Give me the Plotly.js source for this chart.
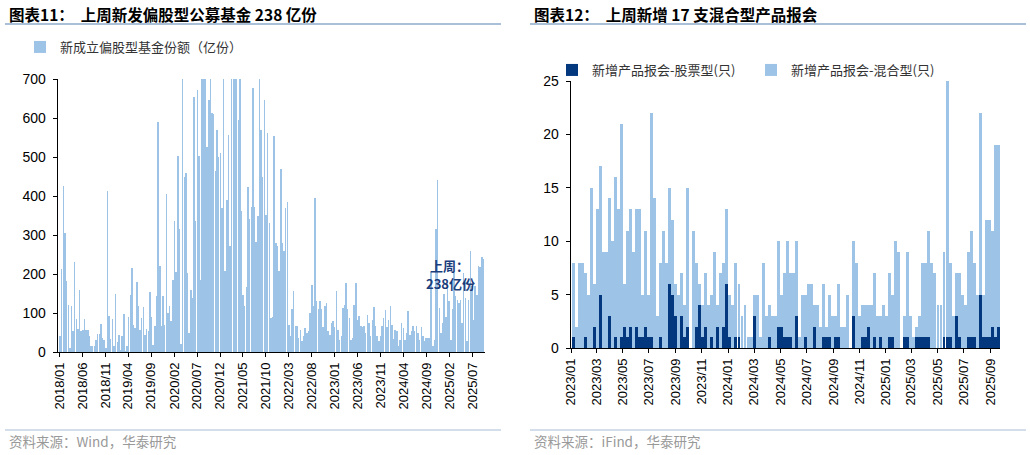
<!DOCTYPE html>
<html>
<head>
<meta charset="utf-8">
<script src="https://cdn.plot.ly/plotly-3.0.1.min.js"></script>
<style>
  html, body { margin: 0; padding: 0; background: #fff; }
  #chart { width: 1030px; height: 455px; }
</style>
</head>
<body>
<div id="chart"></div>
<script>
// left chart: new equity-biased fund shares (亿份)
const fundShares = [
  40, 214, 426, 305, 183, 121, 9, 117, 53, 231,
  85, 59, 160, 53, 57, 85, 57, 57, 40, 15,
  16, 15, 32, 46, 46, 73, 36, 30, 10, 412,
  93, 33, 85, 16, 150, 26, 43, 4, 40, 98,
  2, 15, 90, 147, 215, 70, 62, 179, 117, 57,
  87, 115, 44, 59, 53, 155, 91, 19, 66, 143,
  591, 220, 66, 143, 70, 406, 100, 119, 79, 185,
  337, 204, 503, 315, 21, 760, 450, 460, 202, 49,
  160, 138,
  655, 335, 673, 503, 185, 760, 720, 740, 525, 645,
  750, 613, 611, 463, 568, 500, 510, 369, 780, 207,
  390, 557, 271, 770, 730, 790, 740, 596, 760, 361,
  147, 117, 167, 423, 342, 373, 677, 373, 281, 348,
  720, 570, 450, 645, 352, 562, 331, 87, 91, 555,
  279, 271, 207, 469, 279, 258, 369, 384, 70, 40,
  109, 156, 66, 66, 36, 57, 27, 40, 62, 50,
  53, 100, 173, 117, 395, 130, 109, 130, 109, 64,
  117, 126, 53, 44, 74, 79, 63, 156, 57, 32,
  40, 113, 121, 177, 110, 87, 30, 36, 121, 177,
  81, 93, 66, 64, 66, 49, 96, 74, 40, 83,
  115, 66, 40, 27, 40, 66, 87, 107, 64, 83,
  117, 70, 33, 57, 53, 15, 32, 74, 62, 32,
  49, 104, 44, 53, 66, 53, 66, 49, 32, 63,
  40, 27, 36, 36, 36, 204, 15, 32, 315, 442,
  113, 49, 74, 150, 91, 185, 130, 30, 109, 203,
  143, 134, 126, 134, 74, 203, 138, 27, 134, 258,
  168, 83, 168, 147, 221, 219, 244, 238
];
const fundStart = '2018-01-05';
const fundEnd = '2025-09-12';
const leftTicks = ['2018/01', '2018/06', '2018/11', '2019/04', '2019/09', '2020/02', '2020/07',
  '2020/12', '2021/05', '2021/10', '2022/03', '2022/08', '2023/01', '2023/06', '2023/11',
  '2024/04', '2024/09', '2025/02', '2025/07'];

// right chart: weekly filings (只), stacked
const filingStart = '2023-01-06';
const stockFilings = [
  1, 0, 0, 0, 1, 0, 0, 2, 0, 5,
  0, 0, 3, 0, 1, 0, 1, 2, 1, 2,
  0, 2, 1, 1, 2, 1, 1, 0, 0, 1,
  0, 0, 6, 5, 3, 0, 3, 1, 2, 0,
  0, 2, 4, 1, 2, 0, 1, 0, 2, 0,
  2, 6, 1, 0, 1, 1, 0, 0, 0, 0,
  3, 0, 0, 0, 0, 1, 0, 0, 2, 2,
  1, 1, 1, 0, 3, 0, 0, 1, 0, 0,
  2, 0, 0, 1, 1, 1, 0, 1, 1, 0,
  0, 0, 0, 3, 0, 0, 1, 1, 2, 0,
  1, 0, 1, 0, 0, 1, 1, 0, 0, 0,
  1, 1, 0, 0, 1, 1, 1, 1, 1, 0,
  0, 0, 0, 1, 1, 1, 0, 3, 1, 0,
  0, 1, 1, 1, 0, 5, 1, 1, 1, 2,
  1, 2
];
const mixedFilings = [
  7, 2, 8, 8, 6, 5, 15, 4, 13, 12,
  9, 9, 11, 10, 15, 13, 20, 4, 10, 11,
  9, 11, 12, 4, 9, 4, 21, 14, 3, 7,
  11, 8, 9, 7, 3, 5, 4, 3, 13, 0,
  11, 6, 2, 3, 5, 4, 4, 9, 2, 7,
  6, 7, 4, 4, 7, 5, 3, 4, 1, 1,
  2, 5, 1, 8, 3, 3, 3, 3, 8, 3,
  6, 9, 6, 7, 7, 1, 5, 4, 6, 6,
  2, 4, 2, 5, 1, 4, 3, 2, 5, 2,
  2, 5, 0, 7, 8, 3, 3, 3, 2, 4,
  6, 3, 2, 4, 3, 6, 4, 10, 9, 0,
  2, 8, 3, 1, 1, 2, 7, 7, 10, 8,
  7, 4, 4, 8, 24, 7, 3, 4, 6, 5,
  4, 8, 10, 7, 5, 17, 4, 11, 11, 9,
  18, 17
];
const rightTicks = ['2023/01', '2023/03', '2023/05', '2023/07', '2023/09', '2023/11',
  '2024/01', '2024/03', '2024/05', '2024/07', '2024/09', '2024/11',
  '2025/01', '2025/03', '2025/05', '2025/07', '2025/09'];

const LIGHT = '#9DC3E6';
const DARK = '#03387f';
const CJK = '"Noto Sans CJK SC", sans-serif';
const LATIN = '"Liberation Sans", Arial, sans-serif';

const DAY = 86400000;
const iso = t => new Date(t).toISOString().slice(0, 10);
const tickDate = s => s.replace('/', '-') + '-01';

const t0 = Date.parse(fundStart), t1 = Date.parse(fundEnd);
const fundDates = fundShares.map((_, i) => iso(t0 + (t1 - t0) * i / (fundShares.length - 1)));
const w0 = Date.parse(filingStart);
const weekDates = stockFilings.map((_, i) => iso(w0 + i * 7 * DAY));

const traces = [
  {
    type: 'bar', x: fundDates, y: fundShares, xaxis: 'x', yaxis: 'y',
    name: '新成立偏股型基金份额（亿份）', marker: { color: LIGHT, line: { width: 0 } }, legend: 'legend'
  },
  {
    type: 'bar', x: weekDates, y: stockFilings, xaxis: 'x2', yaxis: 'y2',
    name: '新增产品报会-股票型(只)', marker: { color: DARK, line: { width: 0 } }, legend: 'legend2'
  },
  {
    type: 'bar', x: weekDates, y: mixedFilings, xaxis: 'x2', yaxis: 'y2',
    name: '新增产品报会-混合型(只)', marker: { color: LIGHT, line: { width: 0 } }, legend: 'legend2'
  }
];

const xCommon = {
  type: 'date', tickangle: -90, showline: true, linecolor: '#000', linewidth: 1.3,
  ticks: 'outside', ticklen: 4, tickcolor: '#000', showgrid: false, zeroline: false,
  tickfont: { family: LATIN, size: 13, color: '#000' }, fixedrange: true
};
const yCommon = {
  showline: true, linecolor: '#000', linewidth: 1.3, ticks: 'outside', ticklen: 4,
  tickcolor: '#000', showgrid: false, zeroline: false, ticklabelstandoff: 4,
  tickfont: { family: LATIN, size: 14, color: '#000' }, fixedrange: true
};

const py = px => 1 - px / 455;
const pxx = px => px / 1030;

const layout = {
  width: 1030, height: 455,
  margin: { l: 0, r: 0, t: 0, b: 0 },
  paper_bgcolor: '#fff', plot_bgcolor: '#fff',
  barmode: 'stack', bargap: 0.02,
  font: { family: LATIN, size: 13, color: '#000' },
  xaxis: Object.assign({}, xCommon, {
    domain: [pxx(58), pxx(485)], anchor: 'y',
    range: ['2017-12-22', '2025-09-22'],
    tickvals: leftTicks.map(tickDate), ticktext: leftTicks
  }),
  yaxis: Object.assign({}, yCommon, {
    domain: [py(352), py(79)], anchor: 'x', range: [0, 700], dtick: 100
  }),
  xaxis2: Object.assign({}, xCommon, {
    domain: [pxx(571), pxx(1000)], anchor: 'y2',
    range: ['2023-01-01', '2025-09-23'],
    tickvals: rightTicks.map(tickDate), ticktext: rightTicks
  }),
  yaxis2: Object.assign({}, yCommon, {
    domain: [py(348), py(81)], anchor: 'x2', range: [0, 25], dtick: 5
  }),
  showlegend: true,
  legend: {
    x: pxx(20), y: py(47), xanchor: 'left', yanchor: 'middle', orientation: 'h',
    bgcolor: 'rgba(0,0,0,0)', itemwidth: 30,
    font: { family: CJK, size: 13, color: '#333' }
  },
  legend2: {
    x: pxx(552), y: py(70), xanchor: 'left', yanchor: 'middle', orientation: 'h',
    bgcolor: 'rgba(0,0,0,0)', itemwidth: 30, entrywidth: 154, entrywidthmode: 'pixels',
    traceorder: 'normal',
    font: { family: CJK, size: 13, color: '#333' }
  },
  shapes: [
    { type: 'line', xref: 'paper', yref: 'paper', x0: pxx(5), x1: pxx(501), y0: py(24), y1: py(24), line: { color: '#8eaacb', width: 1.5 } },
    { type: 'line', xref: 'paper', yref: 'paper', x0: pxx(530), x1: pxx(1026), y0: py(24), y1: py(24), line: { color: '#8eaacb', width: 1.5 } },
    { type: 'line', xref: 'paper', yref: 'paper', x0: pxx(5), x1: pxx(501), y0: py(430), y1: py(430), line: { color: '#a9bed6', width: 1.2 } },
    { type: 'line', xref: 'paper', yref: 'paper', x0: pxx(530), x1: pxx(1026), y0: py(430), y1: py(430), line: { color: '#a9bed6', width: 1.2 } }
  ],
  annotations: [
    { xref: 'paper', yref: 'paper', x: pxx(7), y: py(14), xanchor: 'left', yanchor: 'middle', showarrow: false,
      text: '<b>图表11：  上周新发偏股型公募基金 238 亿份</b>', font: { family: CJK, size: 15.5, color: '#000' } },
    { xref: 'paper', yref: 'paper', x: pxx(532), y: py(14), xanchor: 'left', yanchor: 'middle', showarrow: false,
      text: '<b>图表12：  上周新增 17 支混合型产品报会</b>', font: { family: CJK, size: 15.5, color: '#000' } },
    { xref: 'paper', yref: 'paper', x: pxx(7), y: py(441), xanchor: 'left', yanchor: 'middle', showarrow: false,
      text: '资料来源：Wind，华泰研究', font: { family: CJK, size: 13.5, color: '#999' } },
    { xref: 'paper', yref: 'paper', x: pxx(532), y: py(441), xanchor: 'left', yanchor: 'middle', showarrow: false,
      text: '资料来源：iFind，华泰研究', font: { family: CJK, size: 13.5, color: '#999' } },
    { xref: 'paper', yref: 'paper', x: pxx(449), y: py(265), xanchor: 'center', yanchor: 'middle', showarrow: false,
      text: '<b>上周：</b>', font: { family: CJK, size: 13, color: '#1a3d7c' } },
    { xref: 'paper', yref: 'paper', x: pxx(450), y: py(283), xanchor: 'center', yanchor: 'middle', showarrow: false,
      text: '<b>238亿份</b>', font: { family: CJK, size: 13, color: '#1a3d7c' } }
  ]
};

Plotly.newPlot('chart', traces, layout, { displayModeBar: false, staticPlot: true });
</script>
</body>
</html>
